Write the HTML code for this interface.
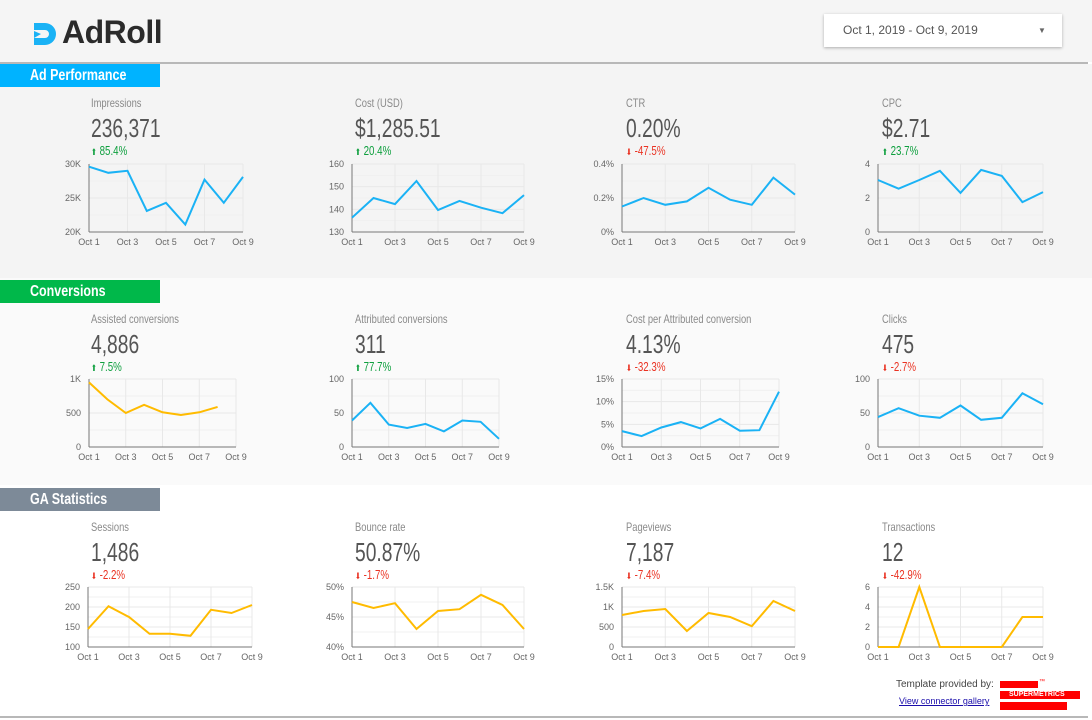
<!DOCTYPE html>
<html><head><meta charset="utf-8">
<style>
*{margin:0;padding:0;box-sizing:border-box}
body{width:1092px;height:720px;position:relative;overflow:hidden;background:#fff;font-family:"Liberation Sans",sans-serif}
.abs{position:absolute}
.cond{display:inline-block;transform:scaleX(0.78);transform-origin:left center;white-space:nowrap}
.sec{position:absolute;left:0;width:160px;height:23px;color:#fff;font-weight:bold;font-size:16px;line-height:23px;padding-left:30px}
.ttl{position:absolute;font-size:12px;color:#8a8a8a}
.val{position:absolute;font-size:26px;color:#555}
.chg{position:absolute;font-size:12.5px}
.up{color:#0e9f3e}.dn{color:#ea3323}
</style></head>
<body>
<div class="abs" style="left:0;top:0;width:1092px;height:62px;background:#f5f5f5"></div>
<div class="abs" style="left:0;top:62px;width:1088px;height:2px;background:#b8b8b8"></div>
<div class="abs" style="left:0;top:64px;width:1092px;height:214px;background:#f4f4f4"></div>
<div class="abs" style="left:0;top:278px;width:1092px;height:207px;background:#fafafa"></div>
<div class="abs" style="left:0;top:716px;width:1088px;height:2px;background:#b8b8b8"></div>

<div class="abs" style="left:32px;top:18px;height:30px">
<svg width="28" height="28" style="position:absolute;left:0;top:3px"><path d="M2 2 H13 A11 11 0 0 1 13 24 H2 V17 H13 A4 4 0 0 0 13 9 H2 Z" fill="#1ab2f5"/><path d="M2 10 L9 13 L2 17Z" fill="#1ab2f5"/></svg>
<span style="position:absolute;left:30px;top:-4px;font-size:32px;font-weight:bold;color:#2b2b2b;letter-spacing:-0.5px">AdRoll</span>
</div>

<div class="abs" style="left:824px;top:14px;width:238px;height:33px;background:#fff;box-shadow:0 1px 3px rgba(0,0,0,.3);font-size:12px;color:#555;line-height:33px;padding-left:19px">Oct 1, 2019 - Oct 9, 2019<span style="position:absolute;left:214px;font-size:8px;color:#666">▼</span></div>

<div class="sec" style="top:64px;background:#00b3ff"><span class="cond">Ad Performance</span></div>
<div class="sec" style="top:280px;background:#00b84a"><span class="cond">Conversions</span></div>
<div class="sec" style="top:488px;background:#7d8a98"><span class="cond">GA Statistics</span></div>

<div id="scorecards"></div>

<div class="abs" style="left:896px;top:679px;font-size:10px;color:#444">Template provided by:</div>
<a class="abs" style="left:899px;top:696px;font-size:9px;color:#1a0dab;text-decoration:underline">View connector gallery</a>
<div class="abs" style="left:1000px;top:681px;width:80px;height:30px">
<div style="position:absolute;left:0;top:0;width:38px;height:7px;background:#f00"></div>
<div style="position:absolute;left:39px;top:-2px;font-size:6px;color:#f00">™</div>
<div style="position:absolute;left:0;top:10px;width:80px;height:8px;background:#f00;color:#fff;font-size:7px;line-height:8px;padding-left:9px;font-weight:bold">SUPERMETRICS</div>
<div style="position:absolute;left:0;top:21px;width:67px;height:8px;background:#f00"></div>
</div>

<svg id="charts" class="abs" style="left:0;top:0" width="1092" height="720"></svg>

<script>
const dates = ["Oct 1","Oct 2","Oct 3","Oct 4","Oct 5","Oct 6","Oct 7","Oct 8","Oct 9"];
const xTickLabels = ["Oct 1","Oct 3","Oct 5","Oct 7","Oct 9"];

const impressionsValues = [29600,28700,29000,23100,24300,21100,27700,24300,28100];
const impressionsTicks = [20000,25000,30000];
const impressionsTickLabels = ["20K","25K","30K"];

const costValues = [136.3,145,142.3,152.5,139.7,143.7,140.7,138.3,146.3];
const costTicks = [130,140,150,160];
const costTickLabels = ["130","140","150","160"];

const ctrValues = [0.15,0.20,0.16,0.18,0.26,0.19,0.16,0.32,0.22];
const ctrTicks = [0,0.2,0.4];
const ctrTickLabels = ["0%","0.2%","0.4%"];

const cpcValues = [3.06,2.55,3.06,3.6,2.3,3.65,3.3,1.76,2.35];
const cpcTicks = [0,2,4];
const cpcTickLabels = ["0","2","4"];

const assistedValues = [950,700,500,620,510,470,510,590];
const assistedTicks = [0,500,1000];
const assistedTickLabels = ["0","500","1K"];

const attributedValues = [39,65,33,28,34,23,39,37,12];
const attributedTicks = [0,50,100];
const attributedTickLabels = ["0","50","100"];

const costPerConvValues = [3.5,2.4,4.3,5.5,4.1,6.2,3.6,3.7,12.2];
const costPerConvTicks = [0,5,10,15];
const costPerConvTickLabels = ["0%","5%","10%","15%"];

const clicksValues = [44,57,46,43,61,40,43,79,63];
const clicksTicks = [0,50,100];
const clicksTickLabels = ["0","50","100"];

const sessionsValues = [145,202,175,133,133,128,193,185,205];
const sessionsTicks = [100,150,200,250];
const sessionsTickLabels = ["100","150","200","250"];

const bounceValues = [47.5,46.5,47.3,43.0,46.0,46.3,48.7,47.0,43.0];
const bounceTicks = [40,45,50];
const bounceTickLabels = ["40%","45%","50%"];

const pageviewsValues = [800,900,950,400,850,750,520,1150,900];
const pageviewsTicks = [0,500,1000,1500];
const pageviewsTickLabels = ["0","500","1K","1.5K"];

const transactionsValues = [0,0,6,0,0,0,0,3,3];
const transactionsTicks = [0,2,4,6];
const transactionsTickLabels = ["0","2","4","6"];

const BLUE="#1ab2f5", YEL="#ffbb00";
const charts = [
 {name:"impressions",title:"Impressions",value:"236,371",chg:"85.4%",up:true,tx:91,ty:96,x0:89,x1:243,y0:232,y1:164,v:impressionsValues,t:impressionsTicks,tl:impressionsTickLabels,c:BLUE},
 {name:"cost",title:"Cost (USD)",value:"$1,285.51",chg:"20.4%",up:true,tx:355,ty:96,x0:352,x1:524,y0:232,y1:164,v:costValues,t:costTicks,tl:costTickLabels,c:BLUE},
 {name:"ctr",title:"CTR",value:"0.20%",chg:"-47.5%",up:false,tx:626,ty:96,x0:622,x1:795,y0:232,y1:164,v:ctrValues,t:ctrTicks,tl:ctrTickLabels,c:BLUE},
 {name:"cpc",title:"CPC",value:"$2.71",chg:"23.7%",up:true,tx:882,ty:96,x0:878,x1:1043,y0:232,y1:164,v:cpcValues,t:cpcTicks,tl:cpcTickLabels,c:BLUE},
 {name:"assisted-conversions",title:"Assisted conversions",value:"4,886",chg:"7.5%",up:true,tx:91,ty:312,x0:89,x1:236,y0:447,y1:379,v:assistedValues,t:assistedTicks,tl:assistedTickLabels,c:YEL},
 {name:"attributed-conversions",title:"Attributed conversions",value:"311",chg:"77.7%",up:true,tx:355,ty:312,x0:352,x1:499,y0:447,y1:379,v:attributedValues,t:attributedTicks,tl:attributedTickLabels,c:BLUE},
 {name:"cost-per-attributed-conversion",title:"Cost per Attributed conversion",value:"4.13%",chg:"-32.3%",up:false,tx:626,ty:312,x0:622,x1:779,y0:447,y1:379,v:costPerConvValues,t:costPerConvTicks,tl:costPerConvTickLabels,c:BLUE},
 {name:"clicks",title:"Clicks",value:"475",chg:"-2.7%",up:false,tx:882,ty:312,x0:878,x1:1043,y0:447,y1:379,v:clicksValues,t:clicksTicks,tl:clicksTickLabels,c:BLUE},
 {name:"sessions",title:"Sessions",value:"1,486",chg:"-2.2%",up:false,tx:91,ty:520,x0:88,x1:252,y0:647,y1:587,v:sessionsValues,t:sessionsTicks,tl:sessionsTickLabels,c:YEL},
 {name:"bounce-rate",title:"Bounce rate",value:"50.87%",chg:"-1.7%",up:false,tx:355,ty:520,x0:352,x1:524,y0:647,y1:587,v:bounceValues,t:bounceTicks,tl:bounceTickLabels,c:YEL},
 {name:"pageviews",title:"Pageviews",value:"7,187",chg:"-7.4%",up:false,tx:626,ty:520,x0:622,x1:795,y0:647,y1:587,v:pageviewsValues,t:pageviewsTicks,tl:pageviewsTickLabels,c:YEL},
 {name:"transactions",title:"Transactions",value:"12",chg:"-42.9%",up:false,tx:882,ty:520,x0:878,x1:1043,y0:647,y1:587,v:transactionsValues,t:transactionsTicks,tl:transactionsTickLabels,c:YEL}
];

const NS="http://www.w3.org/2000/svg";
const svg=document.getElementById("charts");
const sc=document.getElementById("scorecards");
function mk(tag,attrs,parent){const e=document.createElementNS(NS,tag);for(const k in attrs)e.setAttribute(k,attrs[k]);parent.appendChild(e);return e;}

charts.forEach(ch=>{
  const card=document.createElement("div");
  
  
  card.innerHTML='<div class="ttl" style="left:'+ch.tx+'px;top:'+ch.ty+'px"><span class="cond">'+ch.title+'</span></div>'+
    '<div class="val" style="left:'+ch.tx+'px;top:'+(ch.ty+17)+'px"><span class="cond" style="transform:scaleX(0.74)">'+ch.value+'</span></div>'+
    '<div class="chg '+(ch.up?'up':'dn')+'" style="left:'+ch.tx+'px;top:'+(ch.ty+48)+'px"><span class="cond"><span style="font-size:9px">'+(ch.up?'⬆':'⬇')+'</span> '+ch.chg+'</span></div>';
  sc.appendChild(card);

  const g=mk("g",{},svg);
  
  
  const tmin=ch.t[0], tmax=ch.t[ch.t.length-1];
  const xs=i=>ch.x0+(ch.x1-ch.x0)*i/(dates.length-1);
  const ys=v=>ch.y0-(ch.y0-ch.y1)*(v-tmin)/(tmax-tmin);
  for(let k=0;k<ch.t.length;k++){
    const y=ys(ch.t[k]);
    mk("line",{x1:ch.x0,x2:ch.x1,y1:y,y2:y,stroke:"#e8e8e8","stroke-width":1},g);
    if(k<ch.t.length-1){const ym=(y+ys(ch.t[k+1]))/2;mk("line",{x1:ch.x0,x2:ch.x1,y1:ym,y2:ym,stroke:"#f0f0f0","stroke-width":1},g);}
    const tl=mk("text",{x:ch.x0-8,y:y+3,"text-anchor":"end","font-size":"9","fill":"#666","font-family":"Liberation Sans, sans-serif"},g);
    tl.textContent=ch.tl[k];
    
    
  }
  xTickLabels.forEach(lab=>{
    const i=dates.indexOf(lab);const x=xs(i);
    mk("line",{x1:x,x2:x,y1:ch.y1,y2:ch.y0,stroke:"#e8e8e8","stroke-width":1},g);
    const tx=mk("text",{x:x,y:ch.y0+13,"text-anchor":"middle","font-size":"9","fill":"#666","font-family":"Liberation Sans, sans-serif"},g);
    tx.textContent=lab;
    
    
  });
  mk("line",{x1:ch.x0,x2:ch.x0,y1:ch.y1,y2:ch.y0,stroke:"#777","stroke-width":1},g);
  mk("line",{x1:ch.x0,x2:ch.x1,y1:ch.y0,y2:ch.y0,stroke:"#777","stroke-width":1},g);
  const pts=ch.v.map((v,i)=>xs(i).toFixed(1)+","+ys(v).toFixed(1)).join(" ");
  const pl=mk("polyline",{points:pts,fill:"none",stroke:ch.c,"stroke-width":2,"stroke-linejoin":"miter"},g);
  
  
});
</script>
</body></html>
